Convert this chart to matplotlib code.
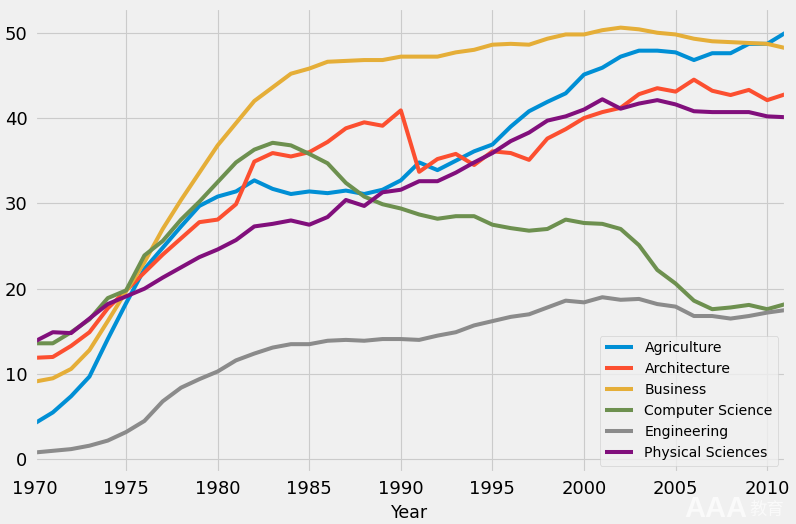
import matplotlib
matplotlib.use('Agg')
import matplotlib.pyplot as plt

plt.style.use('fivethirtyeight')

year = list(range(1970, 2012))
agriculture = [4.2, 5.5, 7.4, 9.7, 14.1, 18.3, 22.3, 24.8, 27.3, 29.7, 30.8, 31.4, 32.7, 31.7, 31.1, 31.4, 31.2, 31.5, 31.1, 31.6, 32.7,
               34.8, 33.9, 35.0, 36.1, 36.9, 39.0, 40.8, 41.9, 42.9, 45.1, 45.9, 47.2, 47.9, 47.9, 47.7, 46.8, 47.6, 47.6, 48.7, 48.7, 50.0]
architecture = [11.9, 12.0, 13.3, 14.9, 17.7, 19.8, 21.9, 24.0, 25.9, 27.8, 28.1, 29.9, 34.9, 35.9, 35.5, 36.0, 37.2, 38.8, 39.5, 39.1, 40.9,
                33.7, 35.2, 35.8, 34.5, 36.1, 35.9, 35.1, 37.6, 38.7, 40.0, 40.7, 41.2, 42.8, 43.5, 43.1, 44.5, 43.2, 42.7, 43.3, 42.1, 42.8]
business = [9.1, 9.5, 10.6, 12.8, 16.2, 19.7, 23.1, 27.0, 30.4, 33.6, 36.8, 39.4, 42.0, 43.6, 45.2, 45.8, 46.6, 46.7, 46.8, 46.8, 47.2,
            47.2, 47.2, 47.7, 48.0, 48.6, 48.7, 48.6, 49.3, 49.8, 49.8, 50.3, 50.6, 50.4, 50.0, 49.8, 49.3, 49.0, 48.9, 48.8, 48.7, 48.2]
computer_science = [13.6, 13.6, 14.9, 16.4, 18.9, 19.8, 23.9, 25.6, 28.1, 30.2, 32.5, 34.8, 36.3, 37.1, 36.8, 35.8, 34.7, 32.4, 30.8, 29.9, 29.4,
                    28.7, 28.2, 28.5, 28.5, 27.5, 27.1, 26.8, 27.0, 28.1, 27.7, 27.6, 27.0, 25.1, 22.2, 20.6, 18.6, 17.6, 17.8, 18.1, 17.6, 18.2]
engineering = [0.8, 1.0, 1.2, 1.6, 2.2, 3.2, 4.5, 6.8, 8.4, 9.4, 10.3, 11.6, 12.4, 13.1, 13.5, 13.5, 13.9, 14.0, 13.9, 14.1, 14.1,
               14.0, 14.5, 14.9, 15.7, 16.2, 16.7, 17.0, 17.8, 18.6, 18.4, 19.0, 18.7, 18.8, 18.2, 17.9, 16.8, 16.8, 16.5, 16.8, 17.2, 17.5]
physical_sciences = [13.8, 14.9, 14.8, 16.5, 18.2, 19.1, 20.0, 21.3, 22.5, 23.7, 24.6, 25.7, 27.3, 27.6, 28.0, 27.5, 28.4, 30.4, 29.7, 31.3, 31.6,
                     32.6, 32.6, 33.6, 34.8, 35.9, 37.3, 38.3, 39.7, 40.2, 41.0, 42.2, 41.1, 41.7, 42.1, 41.6, 40.8, 40.7, 40.7, 40.7, 40.2, 40.1]

names = ['Agriculture', 'Architecture', 'Business', 'Computer Science', 'Engineering', 'Physical Sciences']
series = [agriculture, architecture, business, computer_science, engineering, physical_sciences]

fig = plt.figure(figsize=(7.96, 5.24), dpi=100)
ax = fig.add_axes([34.5 / 796, 1 - 473 / 524, 751 / 796, 465 / 524])

for name, values in zip(names, series):
    ax.plot(year, values, label=name, linewidth=2.9)

ax.set_xlim(1970, 2011)
ax.set_ylim(-1.6, 52.9)
ax.set_xticks(range(1970, 2011, 5))
ax.tick_params(labelsize=13, pad=5)
ax.grid(True, linewidth=0.8)
ax.set_xlabel('Year', fontsize=12.5, labelpad=4)
ax.legend(loc='lower right', fontsize=10.1, frameon=True)

# watermark in the corner
fig.text(716 / 796, 1 - 517 / 524, 'AAA', color='#fafafa', fontsize=21, fontweight='bold',
         family='Liberation Sans', ha='center', va='baseline')
fig.text(767 / 796, 1 - 510 / 524, '教育', color='#fafafa', fontsize=12.5,
         family=['Noto Sans CJK SC', 'DejaVu Sans'], ha='center', va='center')

fig.savefig('out.png', dpi=100)
